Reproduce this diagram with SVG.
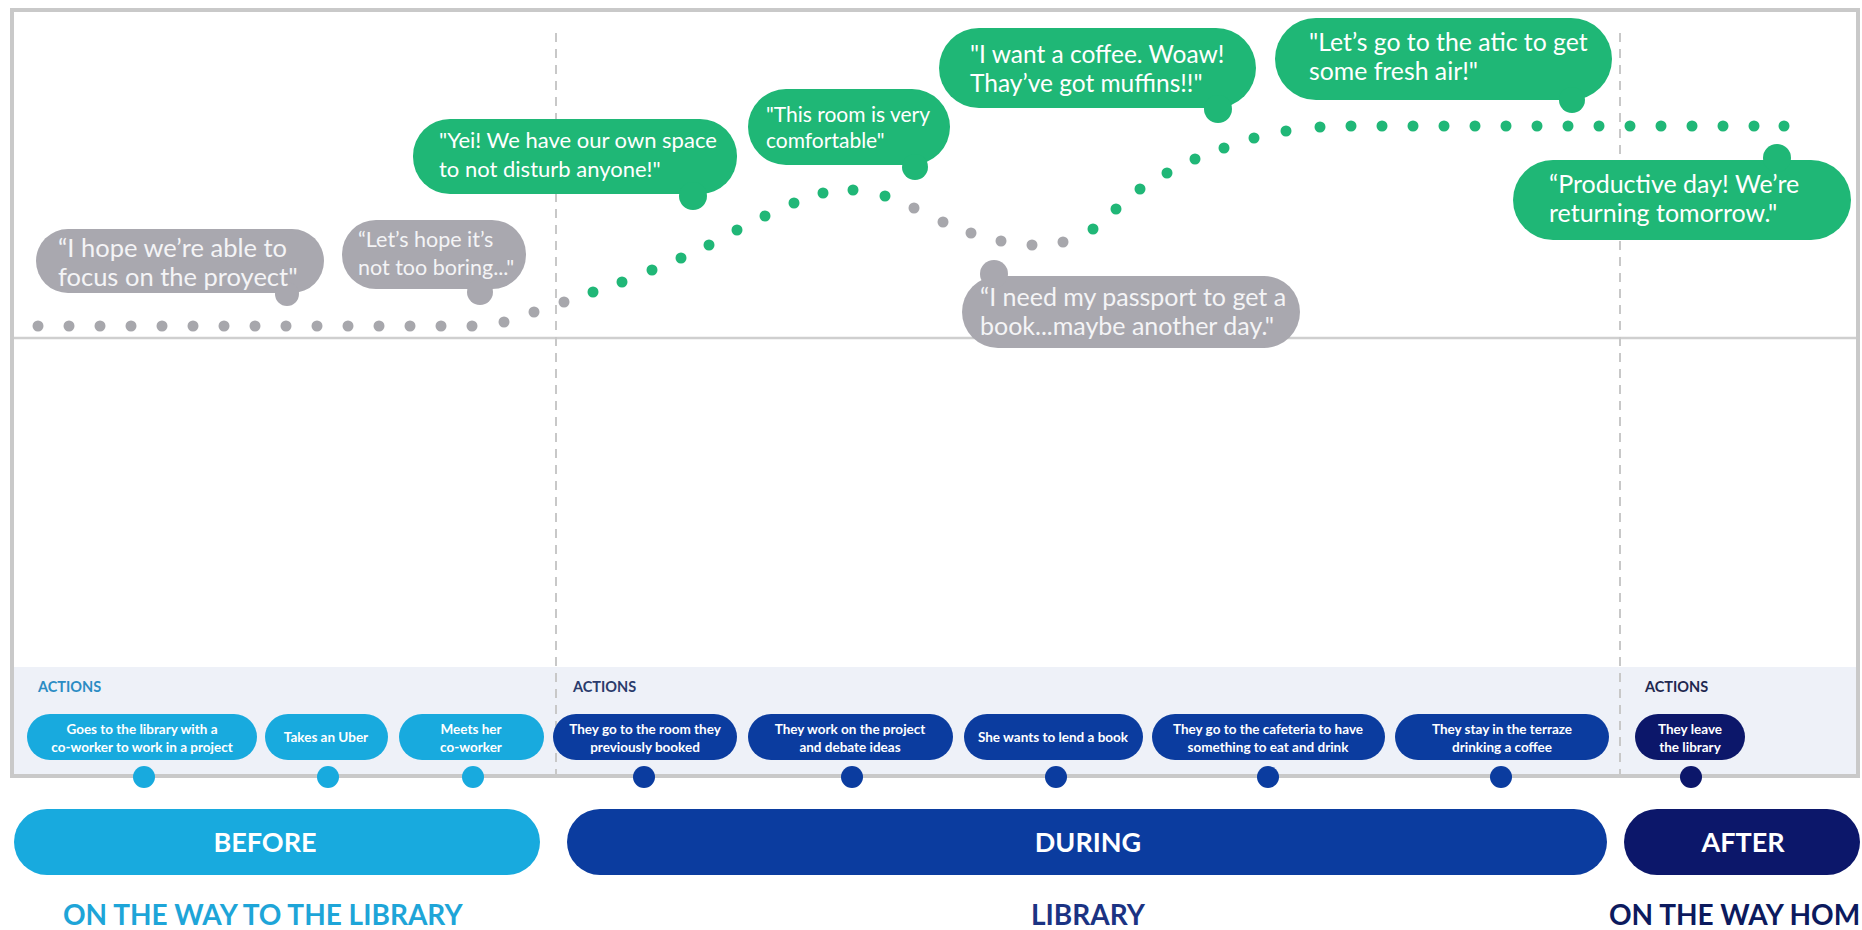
<svg xmlns="http://www.w3.org/2000/svg" width="1862" height="930" viewBox="0 0 1862 930">
<style>
text{font-family:Lato,"Open Sans","Liberation Sans",sans-serif}
.bg{fill:#a9a8af}
.bgr{fill:#1fb776}
.bt{fill:#ffffff;font-size:22px}
.btg{fill:#f4f4f6;font-size:22px}
.dg{fill:#20b777}
.dx{fill:#a7a7ac}
.pc{fill:#18aade}
.pd{fill:#0b3c9f}
.pn{fill:#0c176a}
.at{fill:#ffffff;font-size:13.5px;font-weight:700;text-anchor:middle}
.act{font-size:14.5px;font-weight:700}
.ph{fill:#ffffff;font-size:27px;font-weight:700;text-anchor:middle}
.lb{font-size:28px;font-weight:700}
.dash{stroke:#c8c8c8;stroke-width:2;stroke-dasharray:9 7}
</style>

<g id="frame">
<rect x="12" y="10" width="1846" height="766" fill="#ffffff" stroke="#c9c9c9" stroke-width="4"/>
<rect x="14" y="667" width="1842" height="107" fill="#eef1f8"/>
<line x1="14" y1="338" x2="1856" y2="338" stroke="#cfcfcf" stroke-width="2.5"/>
<line class="dash" x1="556" y1="33" x2="556" y2="774"/>
<line class="dash" x1="1620" y1="33" x2="1620" y2="774"/>
</g>

<g id="curve">
<circle class="dx" cx="38" cy="326" r="5.5"/>
<circle class="dx" cx="69" cy="326" r="5.5"/>
<circle class="dx" cx="100" cy="326" r="5.5"/>
<circle class="dx" cx="131" cy="326" r="5.5"/>
<circle class="dx" cx="162" cy="326" r="5.5"/>
<circle class="dx" cx="193" cy="326" r="5.5"/>
<circle class="dx" cx="224" cy="326" r="5.5"/>
<circle class="dx" cx="255" cy="326" r="5.5"/>
<circle class="dx" cx="286" cy="326" r="5.5"/>
<circle class="dx" cx="317" cy="326" r="5.5"/>
<circle class="dx" cx="348" cy="326" r="5.5"/>
<circle class="dx" cx="379" cy="326" r="5.5"/>
<circle class="dx" cx="410" cy="326" r="5.5"/>
<circle class="dx" cx="441" cy="326" r="5.5"/>
<circle class="dx" cx="472" cy="326" r="5.5"/>
<circle class="dx" cx="504" cy="322" r="5.5"/>
<circle class="dx" cx="534" cy="312" r="5.5"/>
<circle class="dx" cx="564" cy="302" r="5.5"/>
<circle class="dg" cx="593" cy="292" r="5.5"/>
<circle class="dg" cx="622" cy="282" r="5.5"/>
<circle class="dg" cx="652" cy="270" r="5.5"/>
<circle class="dg" cx="681" cy="258" r="5.5"/>
<circle class="dg" cx="709" cy="245" r="5.5"/>
<circle class="dg" cx="737" cy="230" r="5.5"/>
<circle class="dg" cx="765" cy="216" r="5.5"/>
<circle class="dg" cx="794" cy="203" r="5.5"/>
<circle class="dg" cx="823" cy="193" r="5.5"/>
<circle class="dg" cx="853" cy="190" r="5.5"/>
<circle class="dg" cx="885" cy="196" r="5.5"/>
<circle class="dx" cx="914" cy="208" r="5.5"/>
<circle class="dx" cx="943" cy="222" r="5.5"/>
<circle class="dx" cx="971" cy="233" r="5.5"/>
<circle class="dx" cx="1001" cy="241" r="5.5"/>
<circle class="dx" cx="1032" cy="245" r="5.5"/>
<circle class="dx" cx="1063" cy="242" r="5.5"/>
<circle class="dg" cx="1093" cy="229" r="5.5"/>
<circle class="dg" cx="1116" cy="209" r="5.5"/>
<circle class="dg" cx="1140" cy="189" r="5.5"/>
<circle class="dg" cx="1167" cy="173" r="5.5"/>
<circle class="dg" cx="1195" cy="159" r="5.5"/>
<circle class="dg" cx="1224" cy="148" r="5.5"/>
<circle class="dg" cx="1254" cy="138" r="5.5"/>
<circle class="dg" cx="1286" cy="131" r="5.5"/>
<circle class="dg" cx="1320" cy="127" r="5.5"/>
<circle class="dg" cx="1351" cy="126" r="5.5"/>
<circle class="dg" cx="1382" cy="126" r="5.5"/>
<circle class="dg" cx="1413" cy="126" r="5.5"/>
<circle class="dg" cx="1444" cy="126" r="5.5"/>
<circle class="dg" cx="1475" cy="126" r="5.5"/>
<circle class="dg" cx="1506" cy="126" r="5.5"/>
<circle class="dg" cx="1537" cy="126" r="5.5"/>
<circle class="dg" cx="1568" cy="126" r="5.5"/>
<circle class="dg" cx="1599" cy="126" r="5.5"/>
<circle class="dg" cx="1630" cy="126" r="5.5"/>
<circle class="dg" cx="1661" cy="126" r="5.5"/>
<circle class="dg" cx="1692" cy="126" r="5.5"/>
<circle class="dg" cx="1723" cy="126" r="5.5"/>
<circle class="dg" cx="1754" cy="126" r="5.5"/>
<circle class="dg" cx="1784" cy="126" r="5.5"/>
</g>

<g id="q1">
<rect class="bg" x="36" y="229" width="288" height="64" rx="32"/>
<circle class="bg" cx="287" cy="294" r="12"/>
<text class="btg" x="58" y="257" style="font-size:25.5px">“I hope we’re able to</text>
<text class="btg" x="58" y="286" style="font-size:25.5px">focus on the proyect"</text>
</g>
<g id="q2">
<rect class="bg" x="342" y="220" width="184" height="69" rx="34"/>
<circle class="bg" cx="480" cy="292" r="13"/>
<text class="btg" x="358" y="247" style="font-size:21.5px">“Let’s hope it’s</text>
<text class="btg" x="358" y="275" style="font-size:21.5px">not too boring..."</text>
</g>
<g id="q3">
<rect class="bg" x="962" y="276" width="338" height="72" rx="36"/>
<circle class="bg" cx="994" cy="274" r="14"/>
<text class="btg" x="980" y="306" style="font-size:25px">“I need my passport to get a</text>
<text class="btg" x="980" y="335" style="font-size:25px">book...maybe another day."</text>
</g>
<g id="q4">
<rect class="bgr" x="413" y="119" width="324" height="75" rx="37"/>
<circle class="bgr" cx="693" cy="196" r="14"/>
<text class="bt" x="439" y="148">"Yei! We have our own space</text>
<text class="bt" x="439" y="177">to not disturb anyone!"</text>
</g>
<g id="q5">
<rect class="bgr" x="748" y="89" width="202" height="76" rx="38"/>
<circle class="bgr" cx="915" cy="167" r="13"/>
<text class="bt" x="766" y="122" style="font-size:21px">"This room is very</text>
<text class="bt" x="766" y="148" style="font-size:21px">comfortable"</text>
</g>
<g id="q6">
<rect class="bgr" x="939" y="28" width="317" height="80" rx="40"/>
<circle class="bgr" cx="1218" cy="109" r="14"/>
<text class="bt" x="970" y="63" style="font-size:24.5px">"I want a coffee. Woaw!</text>
<text class="bt" x="970" y="92" style="font-size:24.5px">Thay’ve got muffins!!"</text>
</g>
<g id="q7">
<rect class="bgr" x="1275" y="18" width="337" height="82" rx="41"/>
<circle class="bgr" cx="1572" cy="100" r="13"/>
<text class="bt" x="1309" y="51" style="font-size:24.8px">"Let’s go to the atic to get</text>
<text class="bt" x="1309" y="80" style="font-size:24.8px">some fresh air!"</text>
</g>
<g id="q8">
<rect class="bgr" x="1513" y="160" width="338" height="80" rx="40"/>
<circle class="bgr" cx="1777" cy="158" r="14"/>
<text class="bt" x="1549" y="193" style="font-size:25px">“Productive day! We’re</text>
<text class="bt" x="1549" y="222" style="font-size:25px">returning tomorrow."</text>
</g>

<g id="actions-labels">
<text class="act" x="38" y="692" fill="#2b8cc4">ACTIONS</text>
<text class="act" x="573" y="692" fill="#2a3b6c">ACTIONS</text>
<text class="act" x="1645" y="692" fill="#1f2850">ACTIONS</text>
</g>

<g id="a1"><rect class="pc" x="27" y="714" width="230" height="46" rx="23"/><text class="at" x="142" y="734">Goes to the library with a</text><text class="at" x="142" y="752">co-worker to work in a project</text><circle class="pc" cx="144" cy="777" r="11"/></g>
<g id="a2"><rect class="pc" x="265" y="714" width="123" height="46" rx="23"/><text class="at" x="326" y="742">Takes an Uber</text><circle class="pc" cx="328" cy="777" r="11"/></g>
<g id="a3"><rect class="pc" x="399" y="714" width="145" height="46" rx="23"/><text class="at" x="471" y="734">Meets her</text><text class="at" x="471" y="752">co-worker</text><circle class="pc" cx="473" cy="777" r="11"/></g>
<g id="a4"><rect class="pd" x="553" y="714" width="184" height="46" rx="23"/><text class="at" x="645" y="734">They go to the room they</text><text class="at" x="645" y="752">previously booked</text><circle class="pd" cx="644" cy="777" r="11"/></g>
<g id="a5"><rect class="pd" x="748" y="714" width="205" height="46" rx="23"/><text class="at" x="850" y="734">They work on the project</text><text class="at" x="850" y="752">and debate ideas</text><circle class="pd" cx="852" cy="777" r="11"/></g>
<g id="a6"><rect class="pd" x="964" y="714" width="179" height="46" rx="23"/><text class="at" x="1053" y="742">She wants to lend a book</text><circle class="pd" cx="1056" cy="777" r="11"/></g>
<g id="a7"><rect class="pd" x="1152" y="714" width="233" height="46" rx="23"/><text class="at" x="1268" y="734">They go to the cafeteria to have</text><text class="at" x="1268" y="752">something to eat and drink</text><circle class="pd" cx="1268" cy="777" r="11"/></g>
<g id="a8"><rect class="pd" x="1395" y="714" width="214" height="46" rx="23"/><text class="at" x="1502" y="734">They stay in the terraze</text><text class="at" x="1502" y="752">drinking a coffee</text><circle class="pd" cx="1501" cy="777" r="11"/></g>
<g id="a9"><rect class="pn" x="1635" y="714" width="110" height="46" rx="23"/><text class="at" x="1690" y="734">They leave</text><text class="at" x="1690" y="752">the library</text><circle class="pn" cx="1691" cy="777" r="11"/></g>

<g id="before"><rect class="pc" x="14" y="809" width="526" height="66" rx="33"/><text class="ph" x="265" y="852">BEFORE</text></g>
<g id="during"><rect class="pd" x="567" y="809" width="1040" height="66" rx="33"/><text class="ph" x="1088" y="852">DURING</text></g>
<g id="after"><rect class="pn" x="1624" y="809" width="236" height="66" rx="33"/><text class="ph" x="1743" y="852">AFTER</text></g>

<g id="bottom-labels">
<text class="lb" x="63" y="925" fill="#1ea5d8">ON THE WAY TO THE LIBRARY</text>
<text class="lb" x="1088" y="925" fill="#1b3383" text-anchor="middle">LIBRARY</text>
<text class="lb" x="1609" y="925" fill="#0c1a5e">ON THE WAY HOM</text>
</g>
</svg>
